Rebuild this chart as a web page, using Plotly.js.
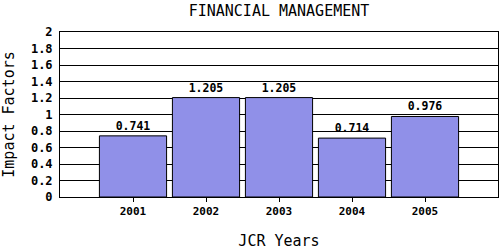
<!DOCTYPE html>
<html>
<head>
<script src="https://cdn.plot.ly/plotly-3.0.1.min.js"></script>
<style>html,body{margin:0;padding:0;background:#fff;}#chart{width:500px;height:250px;}</style>
</head>
<body>
<div id="chart"></div>
<script>
var years = [2001, 2002, 2003, 2004, 2005];
var impactFactors = [0.741, 1.205, 1.205, 0.714, 0.976];
var tickLabels = ["2001", "2002", "2003", "2004", "2005"];

var mono = "DejaVu Sans Mono, Liberation Mono, monospace";

var trace = {
  type: "bar",
  x: years,
  y: impactFactors,
  width: 0.92,
  marker: {color: "#9090e8", line: {color: "#000", width: 1}},
  text: impactFactors.map(function(v){return v.toFixed(3);}),
  textposition: "outside",
  textfont: {family: mono, size: 11.5, color: "#000", weight: "bold"},
  cliponaxis: false,
  hoverinfo: "none"
};

var layout = {
  width: 500, height: 250,
  margin: {l: 60, r: 2, t: 32, b: 53},
  paper_bgcolor: "#fff",
  plot_bgcolor: "#fff",
  showlegend: false,
  title: {text: "FINANCIAL MANAGEMENT", font: {family: mono, size: 15, color: "#000"}, x: 0.558, xanchor: "center", y: 0.98, yanchor: "top"},
  xaxis: {
    range: [2000, 2006],
    tickvals: years,
    ticktext: tickLabels,
    ticks: "outside", ticklen: 4, tickcolor: "#000",
    tickfont: {family: mono, size: 11, color: "#000", weight: "bold"},
    showgrid: false, zeroline: false,
    showline: true, linecolor: "#000", linewidth: 1, mirror: true,
    title: {text: "JCR Years", font: {family: mono, size: 15, color: "#000"}, standoff: 24}
  },
  yaxis: {
    range: [0, 2],
    dtick: 0.2,
    tickfont: {family: mono, size: 12, color: "#000", weight: "bold"},
    ticklabelstandoff: 4,
    showgrid: true, gridcolor: "#000", gridwidth: 1,
    zeroline: false,
    showline: true, linecolor: "#000", linewidth: 1, mirror: true,
    ticks: "",
    title: {text: "Impact Factors", font: {family: mono, size: 15, color: "#000"}, standoff: 12}
  }
};

Plotly.newPlot("chart", [trace], layout, {staticPlot: true, displayModeBar: false});
</script>
</body>
</html>
